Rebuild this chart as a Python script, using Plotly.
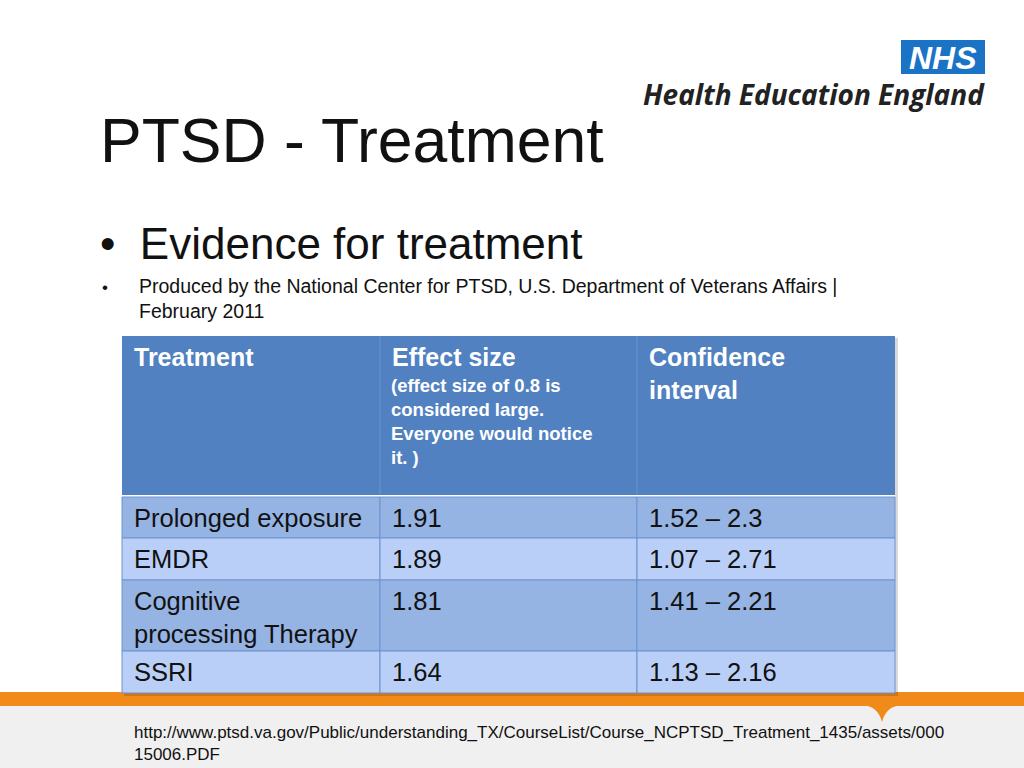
import plotly.graph_objects as go

headers = ["Treatment", "Effect size", "Confidence<br>interval"]
header_note = "(effect size of 0.8 is<br>considered large.<br>Everyone would notice<br>it. )"
treatments = ["Prolonged exposure", "EMDR", "Cognitive<br>processing Therapy", "SSRI"]
effect = ["1.91", "1.89", "1.81", "1.64"]
ci = ["1.52 – 2.3", "1.07 – 2.71", "1.41 – 2.21", "1.13 – 2.16"]

col_x = [122, 380, 637, 895]
row_y = [497, 538, 580, 651, 693]
row_colors = ["#95b3e3", "#b9cff7", "#95b3e3", "#b9cff7"]

fig = go.Figure()
shapes = []
ann = []
F = "Liberation Sans, Arial, sans-serif"

def A(**k):
    k.setdefault("showarrow", False)
    ann.append(k)

shapes.append(dict(type="rect", x0=0, x1=1024, y0=705, y1=768, fillcolor="#f0f0f0", line_width=0, layer="below"))
shapes.append(dict(type="rect", x0=0, x1=1024, y0=692, y1=706, fillcolor="#f28a1a", line_width=0))
shapes.append(dict(type="path", path="M 862 705 Q 878 706 882 722 Q 886 706 902 705 Z", fillcolor="#f28a1a", line_width=0))

shapes.append(dict(type="rect", x0=124, x1=898, y0=338, y1=696, fillcolor="rgba(0,0,0,0.15)", line_width=0))
shapes.append(dict(type="rect", x0=col_x[0], x1=col_x[3], y0=336, y1=495, fillcolor="#5181c1", line_width=0))
shapes.append(dict(type="line", x0=col_x[1], x1=col_x[1], y0=336, y1=495, line=dict(color="#6a95cc", width=1)))
shapes.append(dict(type="line", x0=col_x[2], x1=col_x[2], y0=336, y1=495, line=dict(color="#6a95cc", width=1)))
shapes.append(dict(type="rect", x0=col_x[0], x1=col_x[3], y0=495, y1=497, fillcolor="white", line_width=0))
for i in range(4):
    for j in range(3):
        shapes.append(dict(type="rect", x0=col_x[j], x1=col_x[j+1], y0=row_y[i], y1=row_y[i+1],
                           fillcolor=row_colors[i], line=dict(color="#6d93cf", width=1)))

for j, h in enumerate(headers):
    A(x=col_x[j]+10, y=341, text="<b>"+h+"</b>", xanchor="left", yanchor="top",
      font=dict(size=25, color="white", family=F), align="left")
A(x=col_x[1]+9, y=373, text="<b>"+header_note+"</b>", xanchor="left", yanchor="top",
  font=dict(size=18.5, color="white", family=F), align="left")
for i in range(4):
    for j, v in enumerate([treatments[i], effect[i], ci[i]]):
        A(x=col_x[j]+10, y=row_y[i]+5, text=v, xanchor="left", yanchor="top",
          font=dict(size=25.5, color="#111", family=F), align="left")

A(x=98, y=140, text="PTSD - Treatment", xanchor="left", yanchor="middle",
  font=dict(size=62.5, color="#111", family=F))
A(x=98, y=243, text="•  Evidence for treatment", xanchor="left", yanchor="middle",
  font=dict(size=44, color="#111", family=F))
A(x=100, y=287, text="•", xanchor="left", yanchor="middle", font=dict(size=17, color="#111", family=F))
A(x=137, y=298, text="Produced by the National Center for PTSD, U.S. Department of Veterans Affairs |<br>February 2011",
  xanchor="left", yanchor="middle", align="left", font=dict(size=19.5, color="#111", family=F))
A(x=132, y=743, text="http://www.ptsd.va.gov/Public/understanding_TX/CourseList/Course_NCPTSD_Treatment_1435/assets/000<br>15006.PDF",
  xanchor="left", yanchor="middle", align="left", font=dict(size=17, color="#111", family=F))

shapes.append(dict(type="rect", x0=901, x1=985, y0=40, y1=74, fillcolor="#1a73c4", line_width=0))
A(x=943, y=58, text="<b><i>NHS</i></b>", xanchor="center", yanchor="middle",
  font=dict(size=32, color="white", family=F))
A(x=987, y=94, text="<b><i>Health Education England</i></b>", xanchor="right", yanchor="middle",
  font=dict(size=28, color="#222", family="Open Sans, sans-serif"))

fig.update_layout(width=1024, height=768, margin=dict(l=0, r=0, t=0, b=0),
                  paper_bgcolor="white", plot_bgcolor="white", shapes=shapes, annotations=ann,
                  xaxis=dict(range=[0, 1024], visible=False, fixedrange=True),
                  yaxis=dict(range=[768, 0], visible=False, fixedrange=True), showlegend=False)
fig.write_html("out.html", config={"displayModeBar": False},
               post_script="document.body.style.margin='0';document.body.style.overflow='hidden';")
